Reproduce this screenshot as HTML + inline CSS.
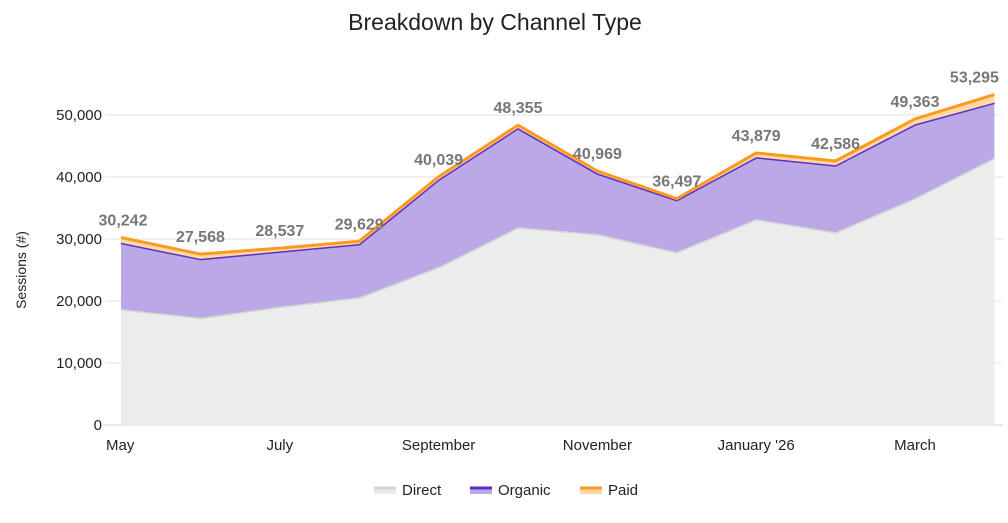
<!DOCTYPE html>
<html><head><meta charset="utf-8"><style>
body{margin:0;background:#fff;font-family:"Liberation Sans",sans-serif;}
svg text{font-family:"Liberation Sans",sans-serif;}
</style></head><body>
<svg id="chart" width="1008" height="518">
<text x="495" y="30" text-anchor="middle" font-size="23" fill="#222">Breakdown by Channel Type</text>
<text transform="translate(26,270) rotate(-90)" text-anchor="middle" font-size="14" fill="#222">Sessions (#)</text>
<g id="grid"></g><g id="areas"></g><g id="xlabels"></g><g id="vlabels"></g>
<g>
<g><rect x="374" y="488" width="22" height="6" fill="#ececec"/><line x1="374" y1="488" x2="396" y2="488" stroke="#d5d5d5" stroke-width="3"/><text x="402" y="495" font-size="15" fill="#222">Direct</text></g>
<g><rect x="470" y="488" width="22" height="6" fill="#bba8e6"/><line x1="470" y1="488" x2="492" y2="488" stroke="#5b2fc9" stroke-width="3"/><text x="498" y="495" font-size="15" fill="#222">Organic</text></g>
<g><rect x="580" y="488" width="22" height="6" fill="#ffd8a8"/><line x1="580" y1="488" x2="602" y2="488" stroke="#ff9a1f" stroke-width="3"/><text x="608" y="495" font-size="15" fill="#222">Paid</text></g>
</g>
</svg>
<script>
const months=["May","Jun","Jul","Aug","Sep","Oct","Nov","Dec","Jan","Feb","Mar","Apr"];
const xTickLabels=["May","","July","","September","","November","","January '26","","March",""];
const direct=[18700,17300,19100,20600,25500,31900,30800,27900,33200,31100,36600,43100];
const organic=[10700,9500,8900,8600,14100,16000,9800,8400,10000,10800,11900,8900];
const totals=[30242,27568,28537,29629,40039,48355,40969,36497,43879,42586,49363,53295];
const yTicks=[0,10000,20000,30000,40000,50000];
const NS="http://www.w3.org/2000/svg";
const X=i=>121+i*79.4, Y=v=>425-v*0.00620;
function el(t,a,p){const e=document.createElementNS(NS,t);for(const k in a)e.setAttribute(k,a[k]);document.getElementById(p).appendChild(e);return e;}
yTicks.forEach(v=>{
 const l=el("line",{x1:105,x2:1003,y1:Y(v),y2:Y(v),stroke:v?"#e3e3e3":"#c8d0e0","stroke-width":1},"grid");
 
 
 const t=el("text",{x:102,y:Y(v)+5,"text-anchor":"end","font-size":15,fill:"#222"},"grid");t.textContent=v.toLocaleString("en-US");
 
 
});
const s1=direct, s2=direct.map((d,i)=>d+organic[i]), s3=totals;
function area(top,bot,fill,stroke,name){
 let d="M"+top.map((v,i)=>X(i)+","+Y(v)).join("L");
 for(let i=bot.length-1;i>=0;i--)d+="L"+X(i)+","+Y(bot[i]);
 const a=el("path",{d:d+"Z",fill:fill},"areas");
 
 
 const l=el("path",{d:"M"+top.map((v,i)=>X(i)+","+Y(v)).join("L"),fill:"none",stroke:stroke,"stroke-width":3,"stroke-linejoin":"round"},"areas");
 
 
}
const zeros=direct.map(()=>0);
area(s1,zeros,"#ececec","#d5d5d5","direct");
area(s2,s1,"#bba8e6","#5b2fc9","organic");
area(s3,s2,"#ffd8a8","#ff9a1f","paid");
xTickLabels.forEach((m,i)=>{if(!m)return;
 const t=el("text",{x:X(i),y:450,"text-anchor":i==0?"start":"middle","font-size":15,fill:"#222"},"xlabels");
 if(i==0)t.setAttribute("x",106);
 t.textContent=m;
 
 
});
totals.forEach((v,i)=>{
 const t=el("text",{x:X(i)+(i==0?2:0),y:Y(v)-12,"text-anchor":"middle","font-size":16,"font-weight":"bold",fill:"#777"},"vlabels");
 if(i==11)t.setAttribute("x",X(i)-20);
 t.textContent=v.toLocaleString("en-US");
 
 
});
</script>
</body></html>
